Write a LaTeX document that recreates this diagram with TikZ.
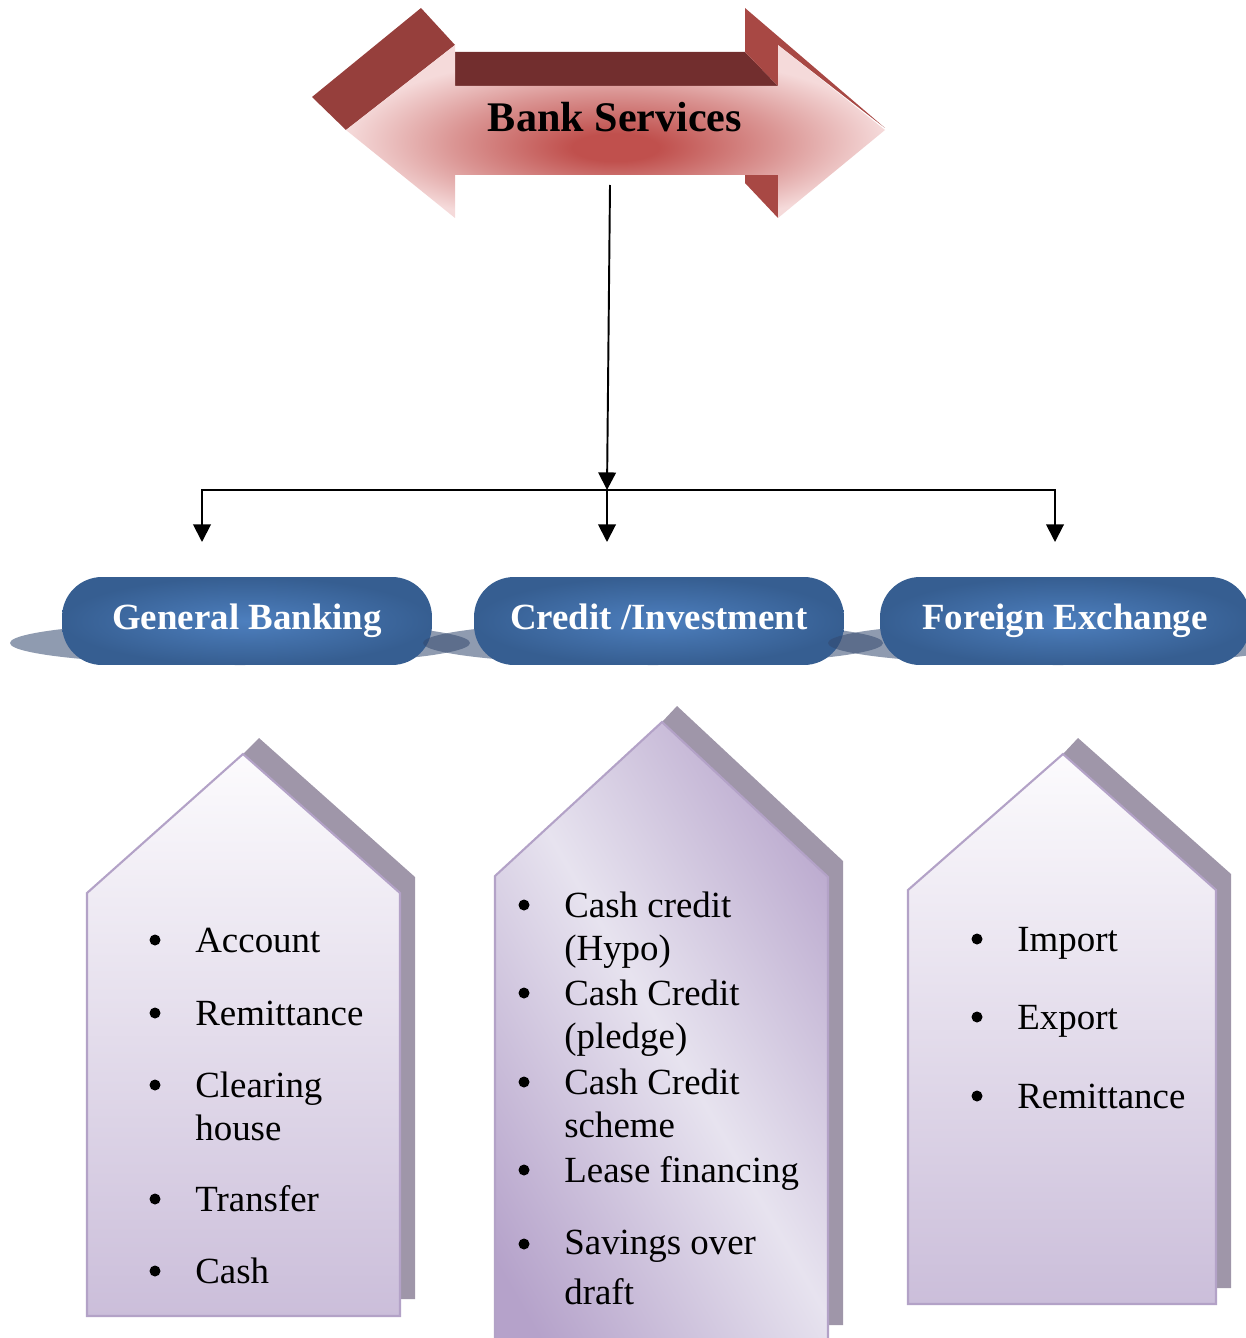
\documentclass[tikz,border=0pt]{standalone}
\usepackage{fontspec}
\setmainfont{Liberation Serif}
\usetikzlibrary{arrows.meta}
\usetikzlibrary{positioning}

\definecolor{bsdark}{RGB}{150,63,60}
\definecolor{bsbar}{RGB}{114,46,46}
\definecolor{bsside}{RGB}{168,72,68}
\definecolor{bsred}{RGB}{192,80,77}
\definecolor{bspale}{RGB}{245,218,218}
\definecolor{fxblue}{RGB}{54,94,145}
\definecolor{fxlight}{RGB}{77,127,190}
\definecolor{shadowgrey}{RGB}{51,73,111}
\definecolor{roofgrey}{RGB}{159,150,169}
\definecolor{houseline}{RGB}{179,162,199}
\definecolor{housetop}{RGB}{252,251,253}
\definecolor{housebot}{RGB}{203,190,218}
\definecolor{midpurple}{RGB}{181,162,202}
\definecolor{midlight}{RGB}{231,227,239}

\pgfdeclareradialshading{bankglow}{\pgfpoint{0bp}{-5bp}}{color(0bp)=(bsred); color(4bp)=(bsred); color(15bp)=(bsred!50!bspale); color(25bp)=(bspale); color(50bp)=(bspale)}

\begin{document}
\begin{tikzpicture}[x=0.02cm,y=-0.02cm,
  link/.style={line width=1.1pt,-{Triangle[length=10pt,width=10pt]}},
  branch/.style={rounded corners=0.8cm,minimum width=7.4cm,minimum height=1.76cm,inner color=fxlight,outer color=fxblue,text=white,text height=15pt,text depth=5pt,font=\bfseries\fontsize{21}{25}\selectfont},
  branchshadow/.style={fill=shadowgrey,opacity=0.55},
  house/.style={draw=houseline,line width=1.2pt,top color=housetop,bottom color=housebot},
  roof/.style={fill=roofgrey},
  item/.style={anchor=base west,align=left,inner sep=0pt,font=\fontsize{21}{24.4}\selectfont},
  dot/.style={circle,fill=black,inner sep=0pt,minimum size=0.22cm}]
\useasboundingbox (0,0) rectangle (1246,1338);

% double arrow
\fill[bsdark] (346,130) -- (455,45) -- (421,8) -- (312,97) -- cycle;
\fill[bsbar] (455,52) -- (745,52) -- (778,86) -- (455,86) -- cycle;
\fill[bsside] (745,8) -- (885,128) -- (778,45) -- (778,86) -- (745,52) -- cycle;
\fill[bsside] (745,175) -- (778,175) -- (778,218) -- (745,183) -- cycle;
\shade[shading=bankglow] (346,130) -- (455,45) -- (455,86) -- (778,86) -- (778,45) -- (885,130)
  -- (778,218) -- (778,175) -- (455,175) -- (455,218) -- cycle;
\node[font=\bfseries\fontsize{24}{28}\selectfont] (bank) at (615,117) {Bank Services};

% connectors
\coordinate (stem) at (610,185);
\coordinate (hub) at (607,490);
\coordinate (gbtip) at (202,542);
\coordinate (citip) at (607,542);
\coordinate (fxtip) at (1055,542);
\draw[link] (stem) -- (hub);
\draw[link] (hub) -| (gbtip);
\draw[link] (hub) -- (citip);
\draw[link] (hub) -| (fxtip);

% branches
\fill[branchshadow] (240,643) ellipse [x radius=230,y radius=22];
\node[branch] (gb) at (247,621) {General Banking};
\fill[branchshadow] (653,643) ellipse [x radius=230,y radius=22];
\node[branch] (ci) at (659,621) {Credit /Investment};
\fill[branchshadow] (1058,643) ellipse [x radius=230,y radius=22];
\node[branch] (fx) at (1065,621) {Foreign Exchange};

% houses
\fill[roof] (243,754) -- (259,738) -- (415,877) -- (415,1299) -- (400,1299) -- (400,893) -- cycle;
\draw[house] (87,1316) -- (87,893) -- (243,754) -- (400,893) -- (400,1316) -- cycle;
\fill[roof] (662,722) -- (677,706) -- (843,861) -- (843,1325) -- (828,1325) -- (828,877) -- cycle;
\fill[midpurple] (495,1350) -- (495,876) -- (662,722) -- (828,877) -- (828,1350) -- cycle;
\begin{scope}
\clip (495,1350) -- (495,876) -- (662,722) -- (828,877) -- (828,1350) -- cycle;
\shade[transform canvas={rotate around={30:(662,1030)}},left color=midpurple,right color=midpurple,middle color=midlight]
  (402,580) rectangle (922,1480);
\end{scope}
\draw[draw=houseline,line width=1.2pt] (495,1350) -- (495,876) -- (662,722) -- (828,877) -- (828,1350);
\fill[roof] (1063,754) -- (1078,738) -- (1231,874) -- (1231,1288) -- (1216,1288) -- (1216,890) -- cycle;
\draw[house] (908,1304) -- (908,890) -- (1063,754) -- (1216,890) -- (1216,1304) -- cycle;

% lists
\foreach \by/\ty/\t [count=\i] in {952/952/Account, 1025/1025/Remittance, 1097/1140/{Clearing\\house}, 1211/1211/Transfer, 1283/1283/Cash}{
  \node[dot] (gbd\i) at (155,{\by-12}) {};
  \node[item] (gbi\i) at (195,\ty) {\t};
}
\foreach \by/\ty/\t [count=\i] in {917/960/{Cash credit\\(Hypo)}, 1005/1048/{Cash Credit\\(pledge)}, 1094/1137/{Cash Credit\\scheme}, 1182/1182/{Lease financing}, 1256/1304/{Savings over\\[3.5pt]draft}}{
  \node[dot] (cid\i) at (524,{\by-12}) {};
  \node[item] (cii\i) at (564,\ty) {\t};
}
\foreach \by/\t [count=\i] in {951/Import, 1029/Export, 1108/Remittance}{
  \node[dot] (fxd\i) at (977,{\by-12}) {};
  \node[item] (fxi\i) at (1017,\by) {\t};
}
\end{tikzpicture}
\end{document}
